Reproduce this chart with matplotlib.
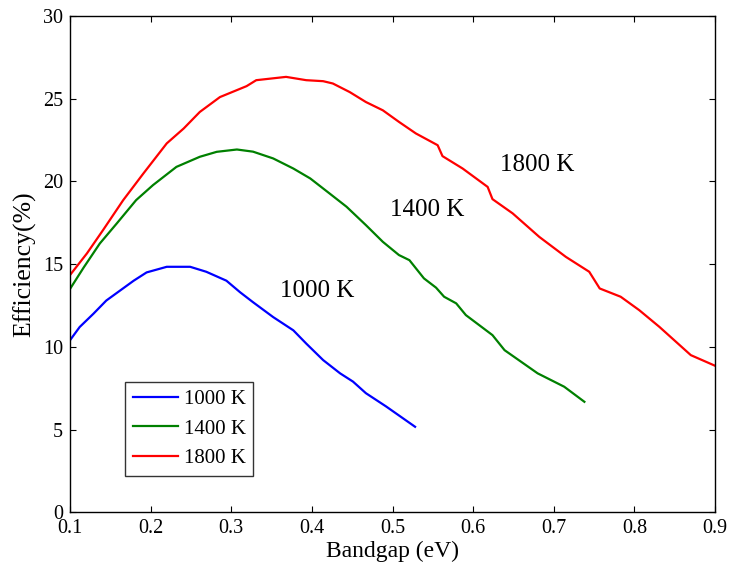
import matplotlib
matplotlib.use("Agg")
import matplotlib.pyplot as plt

plt.rcParams['font.family'] = ['Liberation Serif', 'DejaVu Serif']

x_1000 = [0.100, 0.112, 0.129, 0.145, 0.162, 0.179, 0.195, 0.220, 0.249, 0.269, 0.294,
          0.311, 0.327, 0.352, 0.377, 0.393, 0.414, 0.435, 0.451, 0.467, 0.492, 0.528]
y_1000 = [10.4, 11.2, 12.0, 12.8, 13.4, 14.0, 14.5, 14.84, 14.84, 14.54, 14.0,
          13.3, 12.7, 11.8, 11.0, 10.2, 9.2, 8.4, 7.9, 7.2, 6.4, 5.17]

x_1400 = [0.100, 0.117, 0.137, 0.158, 0.182, 0.203, 0.232, 0.261, 0.282, 0.307, 0.327,
          0.352, 0.377, 0.398, 0.422, 0.443, 0.467, 0.488, 0.508, 0.521, 0.539, 0.554,
          0.564, 0.579, 0.591, 0.624, 0.639, 0.680, 0.713, 0.738]
y_1400 = [13.5, 14.8, 16.25, 17.46, 18.87, 19.78, 20.88, 21.49, 21.79, 21.93, 21.8,
          21.39, 20.78, 20.18, 19.27, 18.47, 17.36, 16.35, 15.55, 15.24, 14.14, 13.58,
          13.03, 12.63, 11.92, 10.71, 9.8, 8.4, 7.59, 6.68]

x_1800 = [0.100, 0.121, 0.141, 0.166, 0.191, 0.220, 0.241, 0.261, 0.286, 0.319, 0.331,
          0.368, 0.393, 0.414, 0.426, 0.447, 0.467, 0.488, 0.508, 0.529, 0.556, 0.562,
          0.587, 0.618, 0.624, 0.649, 0.682, 0.715, 0.744, 0.757, 0.783, 0.806, 0.831,
          0.870, 0.900]
y_1800 = [14.34, 15.65, 17.06, 18.87, 20.48, 22.3, 23.2, 24.2, 25.1, 25.76, 26.12,
          26.32, 26.12, 26.06, 25.92, 25.4, 24.8, 24.3, 23.6, 22.9, 22.19, 21.53,
          20.78, 19.67, 18.93, 18.07, 16.65, 15.44, 14.54, 13.53, 13.03, 12.22, 11.21,
          9.5, 8.86]

labels = ['1000 K', '1400 K', '1800 K']
xticks = [0.1, 0.2, 0.3, 0.4, 0.5, 0.6, 0.7, 0.8, 0.9]
yticks = [0, 5, 10, 15, 20, 25, 30]

fig = plt.figure(figsize=(7.32, 5.71), dpi=100)
ax = fig.add_axes([70/732, (571-512.3)/571, 645/732, 496.3/571])

ax.plot(x_1000, y_1000, color=(0, 0, 1), lw=1.6, label=labels[0])
ax.plot(x_1400, y_1400, color=(0, 0.5, 0), lw=1.6, label=labels[1])
ax.plot(x_1800, y_1800, color=(1, 0, 0), lw=1.6, label=labels[2])

ax.set_xlim(0.1, 0.9)
ax.set_ylim(0, 30)
ax.set_xticks(xticks)
ax.set_xticklabels([f'{v:g}' for v in xticks])
ax.set_yticks(yticks)
ax.tick_params(direction='in', top=True, right=True, labelsize=14.5, length=4, width=0.8)
ax.tick_params(axis='x', pad=5)
ax.tick_params(axis='y', pad=5)
for s in ax.spines.values():
    s.set_linewidth(1.0)

ax.set_xlabel('Bandgap (eV)', fontsize=17, labelpad=2)
ax.set_ylabel('Efficiency(%)', fontsize=18.5, labelpad=5)

ax.text(0.36, 13.4, '1000 K', fontsize=18, va='center', ha='left')
ax.text(0.497, 18.3, '1400 K', fontsize=18, va='center', ha='left')
ax.text(0.633, 21.0, '1800 K', fontsize=18, va='center', ha='left')

leg = ax.legend(loc='lower left', bbox_to_anchor=(0.085, 0.073, 0.199, 0.194), mode='expand',
                fontsize=15, frameon=True, fancybox=False, edgecolor='black',
                handlelength=2.15, handletextpad=0.3, borderpad=0.38, labelspacing=0.47,
                borderaxespad=0)
leg.get_frame().set_linewidth(1.0)

fig.savefig('out.png', dpi=100)
